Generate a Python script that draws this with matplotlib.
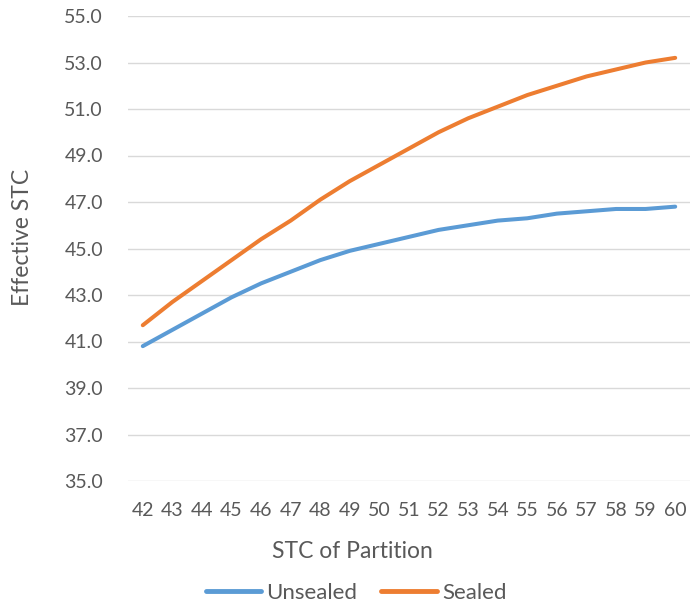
import matplotlib
matplotlib.use("Agg")
import matplotlib.pyplot as plt
from matplotlib.ticker import FormatStrFormatter

plt.rcParams['font.family'] = ['Lato', 'DejaVu Sans']

stc_partition = list(range(42, 61))
unsealed = [40.8, 41.5, 42.2, 42.9, 43.5, 44.0, 44.5, 44.9, 45.2, 45.5,
            45.8, 46.0, 46.2, 46.3, 46.5, 46.6, 46.7, 46.7, 46.8]
sealed = [41.7, 42.7, 43.6, 44.5, 45.4, 46.2, 47.1, 47.9, 48.6, 49.3,
          50.0, 50.6, 51.1, 51.6, 52.0, 52.4, 52.7, 53.0, 53.2]
y_ticks = [35, 37, 39, 41, 43, 45, 47, 49, 51, 53, 55]

grey = '#595959'
fig = plt.figure(figsize=(6.98, 6.03), dpi=100)
ax = fig.add_axes([128/698, 1-481/603, (690-128)/698, (481-16)/603])

ax.plot(stc_partition, unsealed, color='#5B9BD5', lw=2.9, solid_capstyle='round', label='Unsealed')
ax.plot(stc_partition, sealed, color='#ED7D31', lw=2.9, solid_capstyle='round', label='Sealed')

ax.set_xlim(41.5, 60.5)
ax.set_ylim(35, 55)
ax.set_yticks(y_ticks)
ax.set_xticks(stc_partition)
ax.yaxis.set_major_formatter(FormatStrFormatter('%.1f'))
ax.grid(axis='y', color='#d9d9d9', lw=1.0)
ax.set_axisbelow(True)
for s in ax.spines.values():
    s.set_visible(False)
ax.xaxis.set_tick_params(which='major', length=0, labelsize=14, labelcolor=grey, pad=15)
ax.yaxis.set_tick_params(which='major', length=0, labelsize=14, labelcolor=grey, pad=18)
for t in ax.yaxis.get_major_ticks():
    t.set_pad(18)

fig.text(352/698, 1-552/603, 'STC of Partition', ha='center', va='center', fontsize=16.5, color=grey)
fig.text(23/698, 1-237/603, 'Effective STC', ha='center', va='center', rotation=90, fontsize=16.5, color=grey)

leg = fig.legend(loc='center', bbox_to_anchor=(356/698, 1-593/603), ncol=2, frameon=False,
                 fontsize=16, handlelength=2.5, handletextpad=0.22, columnspacing=1.1,
                 borderpad=0, borderaxespad=0)
for t in leg.get_texts():
    t.set_color(grey)
for h in leg.get_lines():
    h.set_linewidth(3.5)

fig.savefig('out.png', dpi=100)
